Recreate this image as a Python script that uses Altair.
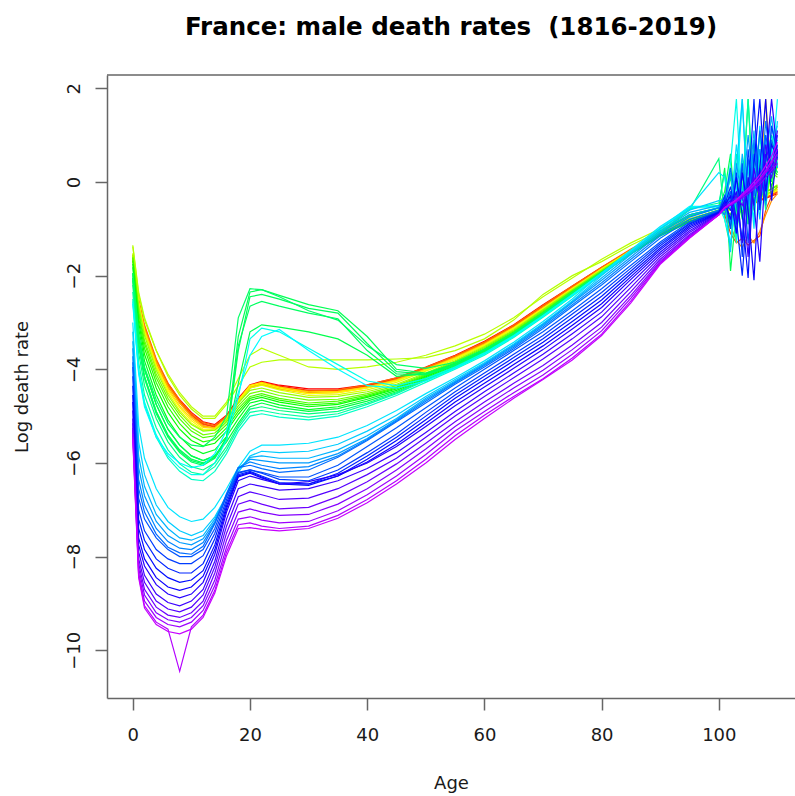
import colorsys

import altair as alt
import pandas as pd

# Ages at which each year's log death rate is recorded
AGES = [0, 1, 2, 4, 6, 8, 10, 12, 14, 16, 18, 20, 22, 25, 30, 35, 40, 45, 50, 55,
        60, 65, 70, 75, 80, 85, 90, 95, 100,
        101, 102, 103, 104, 105, 106, 107, 108, 109, 110]

# Log death rates by year (ages 0-100, then 101-110)
y1816 = [-1.62, -2.55, -3.10, -3.80, -4.30, -4.65, -4.92, -5.12, -5.18, -4.98, -4.62, -4.33, -4.26, -4.34, -4.42, -4.42, -4.33, -4.18, -3.95, -3.70, -3.40, -3.05, -2.62, -2.22, -1.82, -1.45, -1.12, -0.86, -0.66,
         -0.62, -0.60, -0.55, -0.52, -0.48, -0.45, -0.40, -0.35, -0.30, -0.25]
y1822 = [-1.60, -2.60, -3.15, -3.85, -4.35, -4.70, -4.98, -5.18, -5.22, -5.02, -4.66, -4.36, -4.28, -4.36, -4.45, -4.45, -4.35, -4.20, -3.97, -3.72, -3.42, -3.07, -2.64, -2.24, -1.84, -1.46, -1.12, -0.85, -0.64,
         -0.60, -0.58, -0.55, -0.50, -0.47, -0.43, -0.38, -0.33, -0.28, -0.22]
y1828 = [-1.58, -2.58, -3.12, -3.82, -4.32, -4.68, -4.96, -5.16, -5.24, -5.04, -4.70, -4.38, -4.30, -4.38, -4.47, -4.46, -4.36, -4.21, -3.98, -3.73, -3.44, -3.08, -2.66, -2.25, -1.85, -1.46, -1.11, -0.84, -0.63,
         -0.70, -1.10, -1.30, -1.20, -1.35, -1.25, -1.15, -0.60, -0.30, -0.10]
y1834 = [-1.55, -2.50, -3.05, -3.78, -4.30, -4.66, -4.95, -5.14, -5.20, -5.00, -4.66, -4.35, -4.30, -4.40, -4.46, -4.44, -4.33, -4.18, -3.96, -3.71, -3.42, -3.06, -2.64, -2.22, -1.82, -1.43, -1.09, -0.82, -0.62,
         -0.60, -0.55, -0.52, -0.50, -0.45, -0.40, -0.38, -0.32, -0.28, -0.20]
y1840 = [-1.60, -2.62, -3.18, -3.88, -4.38, -4.72, -5.00, -5.20, -5.26, -5.06, -4.72, -4.40, -4.33, -4.42, -4.50, -4.48, -4.38, -4.22, -3.99, -3.74, -3.45, -3.10, -2.68, -2.27, -1.86, -1.47, -1.12, -0.85, -0.64,
         -0.65, -0.95, -1.25, -1.40, -1.15, -1.30, -1.05, -0.70, -0.40, -0.25]
y1846 = [-1.58, -2.55, -3.12, -3.84, -4.36, -4.72, -5.02, -5.22, -5.25, -5.04, -4.68, -4.38, -4.32, -4.42, -4.52, -4.50, -4.40, -4.24, -4.00, -3.75, -3.46, -3.10, -2.68, -2.26, -1.85, -1.46, -1.10, -0.84, -0.63,
         -0.60, -0.56, -0.52, -0.47, -0.42, -0.38, -0.33, -0.28, -0.22, -0.16]
y1852 = [-1.62, -2.62, -3.20, -3.92, -4.42, -4.78, -5.06, -5.24, -5.26, -5.04, -4.66, -4.34, -4.28, -4.38, -4.48, -4.47, -4.38, -4.23, -4.00, -3.76, -3.47, -3.12, -2.70, -2.28, -1.87, -1.47, -1.11, -0.84, -0.62,
         -0.62, -0.70, -0.50, -0.60, -0.40, -0.45, -0.20, 1.77, 0.10, 0.30]
y1858 = [-1.55, -2.58, -3.18, -3.92, -4.45, -4.82, -5.10, -5.28, -5.28, -5.06, -4.68, -4.36, -4.30, -4.40, -4.52, -4.50, -4.40, -4.25, -4.02, -3.77, -3.48, -3.12, -2.70, -2.28, -1.86, -1.46, -1.10, -0.83, -0.62,
         -0.64, -0.60, -0.55, -0.51, -0.46, -0.40, -0.35, -0.29, -0.24, -0.18]
y1864 = [-1.52, -2.60, -3.22, -3.96, -4.50, -4.88, -5.15, -5.30, -5.30, -5.08, -4.70, -4.40, -4.34, -4.44, -4.56, -4.54, -4.44, -4.28, -4.04, -3.79, -3.50, -3.14, -2.72, -2.29, -1.87, -1.47, -1.10, -0.83, -0.61,
         -0.62, -0.58, -0.54, -0.50, -0.45, -0.40, -0.34, -0.28, -0.22, -0.15]
y1870 = [-1.38, -2.40, -2.95, -3.60, -4.10, -4.50, -4.80, -5.00, -5.00, -4.70, -4.20, -3.70, -3.55, -3.70, -3.95, -4.00, -3.95, -3.85, -3.70, -3.50, -3.25, -2.90, -2.45, -2.05, -1.65, -1.30, -1.00, -0.78, -0.60,
         -0.55, -0.52, -0.50, -0.45, -0.40, -0.35, -0.30, -0.22, -0.15, -0.08]
y1871 = [-1.35, -2.35, -2.90, -3.60, -4.15, -4.55, -4.85, -5.05, -5.05, -4.75, -4.35, -3.95, -3.85, -3.80, -3.80, -3.80, -3.80, -3.78, -3.75, -3.60, -3.35, -2.95, -2.40, -2.00, -1.70, -1.35, -1.05, -0.80, -0.60,
         -0.55, -0.50, -0.48, -0.44, -0.38, -0.34, -0.28, -0.20, -0.14, -0.06]
y1876 = [-1.55, -2.65, -3.28, -4.02, -4.55, -4.92, -5.18, -5.32, -5.30, -5.08, -4.72, -4.45, -4.40, -4.50, -4.60, -4.58, -4.48, -4.32, -4.08, -3.82, -3.52, -3.16, -2.73, -2.30, -1.88, -1.48, -1.11, -0.83, -0.62,
         -0.60, -0.56, -0.52, -0.48, -0.44, -0.38, -0.32, -0.26, -0.20, -0.12]
y1882 = [-1.60, -2.75, -3.38, -4.10, -4.62, -4.98, -5.25, -5.40, -5.36, -5.12, -4.78, -4.52, -4.46, -4.56, -4.66, -4.64, -4.52, -4.35, -4.10, -3.84, -3.54, -3.18, -2.75, -2.32, -1.90, -1.49, -1.12, -0.84, -0.62,
         -0.60, -0.80, -0.40, -0.70, -0.30, -0.60, -0.10, -0.40, 0.20, 0.10]
y1888 = [-1.62, -2.80, -3.45, -4.18, -4.70, -5.06, -5.32, -5.46, -5.42, -5.18, -4.84, -4.58, -4.52, -4.62, -4.72, -4.68, -4.55, -4.38, -4.12, -3.86, -3.56, -3.20, -2.77, -2.33, -1.91, -1.50, -1.12, -0.84, -0.62,
         -0.58, -0.55, -0.50, -0.46, -0.40, -0.35, -0.30, -0.22, -0.15, -0.08]
y1894 = [-1.68, -2.90, -3.55, -4.28, -4.80, -5.16, -5.42, -5.55, -5.50, -5.25, -4.90, -4.62, -4.56, -4.66, -4.76, -4.72, -4.58, -4.40, -4.14, -3.88, -3.58, -3.22, -2.79, -2.35, -1.92, -1.51, -1.13, -0.85, -0.63,
         -0.55, -0.70, -0.35, -0.60, -0.20, -0.45, 0.05, -0.30, 0.30, 0.15]
y1900 = [-1.75, -3.00, -3.68, -4.40, -4.92, -5.28, -5.52, -5.64, -5.58, -5.32, -4.96, -4.66, -4.60, -4.70, -4.80, -4.75, -4.60, -4.42, -4.16, -3.90, -3.60, -3.24, -2.81, -2.37, -1.94, -1.52, -1.14, -0.85, -0.62,
         -0.50, -0.30, -0.80, -0.20, -0.60, 0.10, -0.40, 0.30, -0.10, 0.40]
y1906 = [-1.82, -3.12, -3.82, -4.55, -5.08, -5.44, -5.68, -5.80, -5.72, -5.44, -5.06, -4.72, -4.66, -4.76, -4.86, -4.80, -4.64, -4.45, -4.18, -3.92, -3.62, -3.26, -2.83, -2.38, -1.95, -1.53, -1.14, -0.85, -0.62,
         -0.55, -0.85, -0.30, -0.70, 0.00, -0.50, 0.20, -0.30, 0.50, 0.20]
y1912 = [-1.95, -3.30, -4.00, -4.75, -5.28, -5.62, -5.85, -5.95, -5.85, -5.55, -5.15, -4.80, -4.72, -4.82, -4.90, -4.84, -4.68, -4.48, -4.20, -3.94, -3.64, -3.28, -2.85, -2.40, -1.96, -1.54, -1.15, -0.86, -0.63,
         -0.40, 0.20, -0.60, 0.40, -0.30, 0.60, -0.20, 0.70, 0.10, 0.50]
y1914 = [-1.95, -3.30, -4.00, -4.75, -5.28, -5.62, -5.85, -5.95, -5.85, -5.50, -4.30, -3.20, -3.05, -3.10, -3.20, -3.35, -3.70, -4.15, -4.10, -3.90, -3.62, -3.26, -2.83, -2.38, -1.95, -1.52, -1.10, -0.80, -0.60,
         -0.50, -1.00, -0.20, -0.80, 0.10, -0.50, 0.30, -0.20, 0.60, 0.30]
y1915 = [-2.05, -3.45, -4.15, -4.90, -5.40, -5.72, -5.92, -6.00, -5.88, -5.45, -3.30, -2.35, -2.30, -2.42, -2.62, -2.75, -3.30, -4.00, -4.08, -3.88, -3.60, -3.24, -2.82, -2.37, -1.94, -1.50, -1.05, -0.70, -0.55,
         0.30, -1.90, -0.60, 0.20, -0.90, 0.50, -0.30, 0.80, 0.00, 0.60]
y1916 = [-2.10, -3.50, -4.20, -4.95, -5.45, -5.78, -5.98, -6.05, -5.90, -5.50, -3.60, -2.45, -2.40, -2.50, -2.70, -2.80, -3.45, -4.05, -4.10, -3.90, -3.62, -3.25, -2.83, -2.38, -1.95, -1.50, -1.06, -0.72, -0.55,
         -0.20, 0.60, -0.90, -0.30, 1.77, -0.60, 0.40, -0.20, 0.90, 0.30]
y1917 = [-2.05, -3.45, -4.15, -4.90, -5.42, -5.75, -5.95, -6.02, -5.88, -5.48, -3.50, -2.65, -2.55, -2.65, -2.80, -2.92, -3.60, -4.10, -4.12, -3.92, -3.63, -3.26, -2.84, -2.39, -1.96, -1.51, -1.07, -0.73, -0.56,
         -0.60, -0.20, -1.20, 0.30, -0.70, 0.50, -0.40, 0.60, 0.10, 0.70]
y1918 = [-1.95, -3.25, -3.95, -4.65, -5.15, -5.45, -5.62, -5.65, -5.45, -5.00, -2.90, -2.28, -2.30, -2.45, -2.75, -2.95, -3.50, -3.90, -3.98, -3.85, -3.58, -3.22, -2.80, -2.35, -1.92, -1.48, -1.04, -0.70, -0.55,
         -0.40, 0.10, -0.80, -0.20, 0.40, -0.50, 0.70, -0.10, 0.50, 0.20]
y1922 = [-2.20, -3.65, -4.35, -5.05, -5.55, -5.88, -6.08, -6.15, -6.00, -5.65, -5.20, -4.85, -4.80, -4.88, -4.95, -4.90, -4.72, -4.50, -4.22, -3.95, -3.65, -3.28, -2.85, -2.40, -1.97, -1.52, -1.08, -0.60, 0.50,
         -0.80, -1.40, -0.30, 0.40, -0.90, 0.80, -0.20, 0.40, 1.00, 0.50]
y1928 = [-2.35, -3.85, -4.55, -5.25, -5.72, -6.02, -6.20, -6.25, -6.08, -5.72, -5.25, -4.92, -4.88, -4.95, -5.02, -4.95, -4.75, -4.52, -4.24, -3.97, -3.67, -3.30, -2.87, -2.42, -1.98, -1.52, -1.06, -0.58, -0.45,
         0.20, -0.50, 0.60, -0.40, 1.77, -0.30, 0.50, -0.60, 0.80, 0.40]
y1934 = [-2.50, -4.05, -4.75, -5.45, -5.90, -6.18, -6.35, -6.38, -6.18, -5.80, -5.32, -5.00, -4.95, -5.02, -5.08, -5.00, -4.80, -4.56, -4.28, -4.00, -3.70, -3.32, -2.89, -2.44, -1.98, -1.50, -1.02, -0.55, -0.50,
         -0.70, -0.20, -1.30, 0.50, -0.40, 0.20, 1.00, -0.30, 0.70, 0.90]
y1940 = [-2.55, -4.00, -4.70, -5.40, -5.85, -6.10, -6.25, -6.25, -6.00, -5.50, -4.60, -3.35, -3.12, -3.20, -3.55, -3.90, -4.25, -4.35, -4.20, -3.95, -3.65, -3.28, -2.85, -2.40, -1.95, -1.48, -1.00, -0.55, -0.55,
         -0.50, 0.40, 1.77, -0.60, 0.30, -0.80, 0.70, 0.00, 0.90, 1.20]
y1944 = [-2.60, -4.10, -4.80, -5.45, -5.80, -6.00, -6.10, -6.05, -5.80, -5.30, -4.50, -3.70, -3.30, -3.15, -3.60, -4.00, -4.35, -4.40, -4.25, -3.98, -3.68, -3.30, -2.87, -2.42, -1.96, -1.48, -0.98, -0.52, -0.52,
         -0.80, -1.30, -0.20, 1.77, -0.50, 0.60, -0.40, 1.00, 0.30, 1.77]
y1948 = [-3.00, -5.20, -5.90, -6.55, -6.95, -7.15, -7.25, -7.20, -6.95, -6.55, -6.10, -5.75, -5.62, -5.62, -5.58, -5.45, -5.20, -4.88, -4.52, -4.18, -3.82, -3.42, -2.98, -2.50, -1.95, -1.45, -0.95, -0.55, 0.20,
         0.10, -0.60, 0.80, -0.30, 0.40, -1.00, 1.20, -0.20, 0.60, 0.90]
y1952 = [-3.20, -5.55, -6.25, -6.90, -7.25, -7.45, -7.55, -7.45, -7.15, -6.70, -6.20, -5.85, -5.75, -5.78, -5.75, -5.60, -5.32, -4.98, -4.58, -4.22, -3.86, -3.46, -3.02, -2.54, -2.00, -1.50, -1.00, -0.60, -0.40,
         -0.40, -1.50, 0.30, 1.77, -0.60, 0.20, -0.80, 0.90, 0.10, 1.30]
y1956 = [-3.40, -5.85, -6.50, -7.10, -7.40, -7.60, -7.65, -7.55, -7.20, -6.70, -6.15, -5.88, -5.85, -5.90, -5.90, -5.72, -5.42, -5.05, -4.62, -4.25, -3.88, -3.48, -3.04, -2.56, -2.05, -1.55, -1.05, -0.65, -0.50,
         -0.60, 0.20, -0.90, 0.60, -0.30, 1.10, -0.60, 0.50, 1.40, 0.30]
y1960 = [-3.55, -6.10, -6.70, -7.25, -7.55, -7.70, -7.75, -7.62, -7.25, -6.70, -6.12, -5.92, -5.95, -6.00, -6.00, -5.80, -5.48, -5.08, -4.65, -4.27, -3.90, -3.50, -3.06, -2.58, -2.10, -1.60, -1.10, -0.70, -0.55,
         -0.30, -0.90, 0.40, -0.40, 1.00, -0.20, 0.70, -0.50, 1.20, 0.60]
y1964 = [-3.72, -6.35, -6.90, -7.40, -7.68, -7.82, -7.85, -7.70, -7.28, -6.68, -6.10, -5.98, -6.05, -6.12, -6.08, -5.85, -5.50, -5.10, -4.68, -4.29, -3.92, -3.53, -3.09, -2.62, -2.15, -1.65, -1.15, -0.75, -0.55,
         -0.70, -0.30, -1.10, 0.20, -0.60, 0.90, -0.40, 1.30, 0.20, 0.80]
y1968 = [-3.85, -6.55, -7.05, -7.52, -7.80, -7.92, -7.95, -7.78, -7.30, -6.65, -6.10, -6.05, -6.12, -6.20, -6.15, -5.88, -5.52, -5.12, -4.72, -4.32, -3.95, -3.56, -3.13, -2.66, -2.20, -1.70, -1.20, -0.80, -0.60,
         -0.40, 0.30, -0.50, -1.20, 0.50, -0.30, 1.10, 0.10, 0.90, 0.50]
y1972 = [-3.95, -6.75, -7.20, -7.60, -7.85, -8.00, -8.00, -7.85, -7.40, -6.70, -6.20, -6.15, -6.20, -6.30, -6.30, -6.05, -5.65, -5.25, -4.82, -4.40, -4.00, -3.60, -3.20, -2.75, -2.28, -1.78, -1.28, -0.85, -0.62,
         -0.60, -0.20, -0.90, 0.40, -1.30, 0.60, -0.20, 1.00, 0.30, 0.80]
y1976 = [-4.15, -7.00, -7.45, -7.85, -8.05, -8.15, -8.15, -7.98, -7.50, -6.78, -6.22, -6.15, -6.22, -6.35, -6.38, -6.15, -5.78, -5.38, -4.92, -4.48, -4.08, -3.68, -3.28, -2.82, -2.36, -1.84, -1.32, -0.88, -0.63,
         -0.30, -1.00, 0.20, -1.60, 0.70, -0.50, 0.30, -0.40, 1.20, 0.60]
y1980 = [-4.35, -7.20, -7.65, -8.05, -8.25, -8.35, -8.35, -8.15, -7.62, -6.85, -6.25, -6.18, -6.28, -6.42, -6.45, -6.22, -5.85, -5.45, -5.00, -4.55, -4.15, -3.75, -3.35, -2.90, -2.44, -1.90, -1.36, -0.90, -0.64,
         -0.50, -0.10, -0.80, -2.00, -0.30, 1.77, -0.60, 0.60, 0.20, 1.00]
y1984 = [-4.55, -7.40, -7.85, -8.25, -8.45, -8.55, -8.50, -8.30, -7.75, -6.92, -6.28, -6.20, -6.30, -6.45, -6.48, -6.28, -5.92, -5.52, -5.08, -4.62, -4.22, -3.82, -3.42, -2.98, -2.52, -1.96, -1.41, -0.93, -0.65,
         -0.40, -0.80, 0.10, -0.70, -2.05, 0.40, 1.77, -0.20, 0.80, 0.50]
y1988 = [-4.70, -7.60, -8.05, -8.45, -8.65, -8.72, -8.65, -8.42, -7.85, -6.98, -6.30, -6.22, -6.32, -6.45, -6.45, -6.28, -5.98, -5.60, -5.15, -4.70, -4.30, -3.90, -3.50, -3.06, -2.60, -2.02, -1.45, -0.96, -0.66,
         -0.50, -0.30, -1.10, 0.20, -0.60, -2.10, 0.30, 1.77, -0.40, 0.70]
y1992 = [-4.88, -7.75, -8.20, -8.60, -8.80, -8.88, -8.80, -8.55, -7.95, -7.05, -6.38, -6.28, -6.35, -6.45, -6.40, -6.25, -6.00, -5.65, -5.22, -4.78, -4.38, -3.98, -3.58, -3.14, -2.68, -2.08, -1.50, -1.00, -0.67,
         -0.45, -0.60, -0.20, -1.30, 0.10, -0.50, -1.70, 0.40, 1.77, 0.60]
y1996 = [-5.05, -7.90, -8.40, -8.80, -8.98, -9.05, -8.95, -8.70, -8.10, -7.20, -6.55, -6.45, -6.50, -6.58, -6.55, -6.38, -6.12, -5.78, -5.35, -4.90, -4.48, -4.08, -3.68, -3.24, -2.78, -2.16, -1.55, -1.04, -0.68,
         -0.50, -0.40, -0.80, -0.20, -1.60, 0.30, -0.40, 0.80, 0.20, 1.10]
y2000 = [-5.15, -8.05, -8.55, -8.95, -9.12, -9.18, -9.08, -8.82, -8.22, -7.35, -6.72, -6.62, -6.68, -6.78, -6.75, -6.55, -6.25, -5.90, -5.45, -5.00, -4.58, -4.18, -3.78, -3.35, -2.88, -2.25, -1.60, -1.08, -0.69,
         -0.55, -0.45, -0.30, -0.50, -0.20, 0.10, -0.30, 0.40, 0.10, 0.60]
y2004 = [-5.25, -8.15, -8.70, -9.08, -9.25, -9.30, -9.20, -8.95, -8.35, -7.50, -6.88, -6.80, -6.88, -6.98, -6.95, -6.72, -6.40, -6.02, -5.58, -5.12, -4.70, -4.30, -3.92, -3.48, -3.00, -2.34, -1.65, -1.12, -0.70,
         -0.55, -0.48, -0.40, -0.30, -0.25, -0.10, 0.00, 0.20, 0.30, 0.50]
y2008 = [-5.30, -8.25, -8.82, -9.20, -9.35, -9.40, -9.30, -9.05, -8.50, -7.65, -7.05, -6.98, -7.05, -7.12, -7.10, -6.88, -6.55, -6.15, -5.70, -5.22, -4.80, -4.40, -4.02, -3.58, -3.10, -2.42, -1.69, -1.15, -0.70,
         -0.56, -0.50, -0.42, -0.34, -0.25, -0.15, -0.05, 0.10, 0.25, 0.40]
y2012 = [-5.38, -8.35, -8.95, -9.30, -9.45, -9.50, -9.40, -9.15, -8.62, -7.80, -7.20, -7.15, -7.22, -7.28, -7.25, -7.02, -6.68, -6.28, -5.82, -5.32, -4.90, -4.50, -4.12, -3.68, -3.18, -2.48, -1.72, -1.17, -0.70,
         -0.55, -0.48, -0.40, -0.30, -0.20, -0.08, 0.05, 0.20, 0.40, 0.60]
y2016 = [-5.45, -8.40, -9.05, -9.40, -9.55, -10.45, -9.50, -9.25, -8.72, -7.90, -7.32, -7.28, -7.35, -7.40, -7.35, -7.12, -6.78, -6.38, -5.92, -5.42, -4.98, -4.58, -4.20, -3.76, -3.25, -2.54, -1.74, -1.19, -0.70,
         -0.55, -0.46, -0.38, -0.28, -0.18, -0.06, 0.08, 0.25, 0.45, 0.70]
y2019 = [-5.50, -8.45, -9.10, -9.45, -9.60, -9.65, -9.55, -9.30, -8.78, -7.98, -7.40, -7.38, -7.42, -7.45, -7.40, -7.18, -6.85, -6.45, -6.00, -5.50, -5.05, -4.62, -4.22, -3.80, -3.28, -2.58, -1.76, -1.20, -0.70,
         -0.55, -0.47, -0.38, -0.26, -0.14, 0.00, 0.15, 0.35, 0.55, 0.85]

SERIES = {
    1816: y1816, 1822: y1822, 1828: y1828, 1834: y1834, 1840: y1840, 1846: y1846,
    1852: y1852, 1858: y1858, 1864: y1864, 1870: y1870, 1871: y1871, 1876: y1876,
    1882: y1882, 1888: y1888, 1894: y1894, 1900: y1900, 1906: y1906, 1912: y1912,
    1914: y1914, 1915: y1915, 1916: y1916, 1917: y1917, 1918: y1918, 1922: y1922,
    1928: y1928, 1934: y1934, 1940: y1940, 1944: y1944, 1948: y1948, 1952: y1952,
    1956: y1956, 1960: y1960, 1964: y1964, 1968: y1968, 1972: y1972, 1976: y1976,
    1980: y1980, 1984: y1984, 1988: y1988, 1992: y1992, 1996: y1996, 2000: y2000,
    2004: y2004, 2008: y2008, 2012: y2012, 2016: y2016, 2019: y2019,
}

FIRST_YEAR, LAST_YEAR = 1816, 2019
N_YEARS = LAST_YEAR - FIRST_YEAR + 1


def rainbow(year):
    # R-style rainbow palette spread over 1.25x the number of years
    hue = (year - FIRST_YEAR) / round(N_YEARS * 1.25)
    r, g, b = colorsys.hsv_to_rgb(hue, 1.0, 1.0)
    return "#{:02x}{:02x}{:02x}".format(round(r * 255), round(g * 255), round(b * 255))


rows = []
for year, values in SERIES.items():
    assert len(values) == len(AGES), year
    colour = rainbow(year)
    for age, rate in zip(AGES, values):
        rows.append({"year": year, "age": age, "rate": rate, "colour": colour})
df = pd.DataFrame(rows)

W, H = 688, 623
FRAME = "#666666"
TEXT = "#1a1a1a"
FONT = "DejaVu Sans"

x_axis = alt.Axis(
    values=[0, 20, 40, 60, 80, 100], title="Age", grid=False,
    tickSize=12, tickColor=FRAME, tickWidth=1.5,
    domainColor=FRAME, domainWidth=1.5,
    labelFont=FONT, labelFontSize=18, labelColor=TEXT, labelPadding=16,
    labelFlush=False, labelOverlap=False,
    titleFont=FONT, titleFontSize=18, titleFontWeight="normal", titleColor=TEXT,
    titleY=85, titleBaseline="middle",
)
y_axis = alt.Axis(
    values=[-10, -8, -6, -4, -2, 0, 2], title="Log death rate", grid=False,
    tickSize=12, tickColor=FRAME, tickWidth=1.5,
    domainColor=FRAME, domainWidth=1.5,
    labelFont=FONT, labelFontSize=18, labelColor=TEXT, labelPadding=16,
    labelAngle=270, labelAlign="center", labelBaseline="alphabetic",
    labelFlush=False, labelOverlap=False,
    titleFont=FONT, titleFontSize=18, titleFontWeight="normal", titleColor=TEXT,
    titleAngle=270, titleAlign="center", titleBaseline="middle",
    titleX=-85, titleY=H / 2,
)

lines = alt.Chart(df).mark_line(strokeWidth=1.2, clip=True).encode(
    x=alt.X("age:Q", scale=alt.Scale(domain=[-4.4, 113.0], nice=False, zero=False), axis=x_axis),
    y=alt.Y("rate:Q", scale=alt.Scale(domain=[-11.02, 2.285], nice=False, zero=False), axis=y_axis),
    color=alt.Color("colour:N", scale=None),
    detail="year:O",
)

top_edge = alt.Chart(alt.Data(values=[{}])).mark_rule(color=FRAME, strokeWidth=1.5).encode(
    x=alt.value(0), x2=alt.value(W), y=alt.value(0)
)

chart = alt.layer(lines, top_edge).properties(
    width=W, height=H,
    title=alt.TitleParams(
        "France: male death rates \u00a0(1816-2019)",
        font=FONT, fontSize=24.5, fontWeight="bold", color="#000000",
        anchor="middle", baseline="alphabetic", offset=15,
    ),
    padding={"left": 107, "top": 75, "right": 0, "bottom": 98},
    autosize=alt.AutoSizeParams(type="none"),
    background="white",
).configure_view(stroke=None)

chart.save("out.html", embed_options={"renderer": "svg", "actions": False})
